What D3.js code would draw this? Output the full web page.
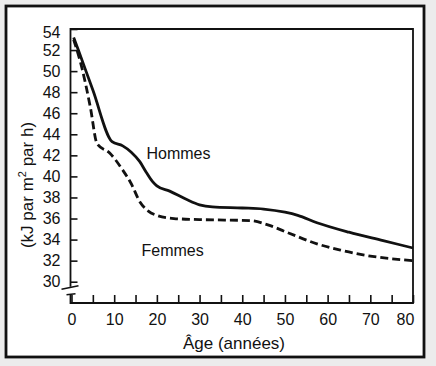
<!DOCTYPE html>
<html>
<head>
<meta charset="utf-8">
<script src="https://cdn.jsdelivr.net/npm/d3@7"></script>
<style>
  html, body { margin: 0; padding: 0; background: #ececec; }
  svg { display: block; }
  text { font-family: "Liberation Sans", Arial, Helvetica, sans-serif; fill: #111; }
</style>
</head>
<body>
<div id="chart"></div>
<script>
// Donnees : [age, kJ par m2 par h]
const hommes = [
  [0.5, 53.2], [1.6, 52.0], [5, 48.2], [9.5, 43.3], [12, 42.9], [14, 42.3],
  [16, 41.4], [17.5, 40.4], [19, 39.5], [20, 39.1], [23, 38.6], [27, 37.8],
  [30, 37.3], [33, 37.1], [40, 37.0], [45, 36.9], [50, 36.6], [53, 36.3],
  [57.5, 35.6], [65, 34.7], [73, 33.9], [80, 33.2]
];
const femmes = [
  [0.5, 53.0], [2.5, 50.2], [4.4, 46.6], [6, 43.1], [9, 42.2], [12, 40.6],
  [14, 39.3], [16, 37.6], [18, 36.7], [20, 36.3], [24, 36.0], [30, 35.9],
  [42, 35.8], [46, 35.4], [51, 34.6], [57.5, 33.6], [63, 33.0], [69, 32.5],
  [80, 32.0]
];
const yTicks = [30, 32, 34, 36, 38, 40, 42, 44, 46, 48, 50, 52, 54];
const xTicks = [0, 5, 10, 15, 20, 25, 30, 35, 40, 45, 50, 55, 60, 65, 70, 75, 80];
const xLabels = [0, 10, 20, 30, 40, 50, 60, 70, 80];

const W = 436, H = 366;
const x = d3.scaleLinear().domain([0, 80]).range([71.5, 413]);
const y = d3.scaleLinear().domain([30, 54]).range([281.7, 29]);
const x0 = 70.5, yBase = 303;

const svg = d3.select("#chart").append("svg")
  .attr("width", W).attr("height", H);

// cadre exterieur
svg.append("rect")
  .attr("x", 6).attr("y", 6).attr("width", 418).attr("height", 351)
  .attr("fill", "#fff").attr("stroke", "#111").attr("stroke-width", 2.8);

const g = svg.append("g");

// cadre du graphique
g.append("path")
  .attr("d", `M${x0},${y(30) + 5} V${y(54)} H${x(80)} V${yBase} H${x0} V${y(30) + 12.5}`)
  .attr("fill", "none").attr("stroke", "#111").attr("stroke-width", 1.8);

// coupure de l'axe
g.append("path")
  .attr("d", `M${x0 - 9},${y(30) + 7.5} L${x0 + 8},${y(30) + 4}` +
             ` M${x0 - 4},${y(30) + 13} L${x0 + 5},${y(30) + 12}`)
  .attr("fill", "none").attr("stroke", "#111").attr("stroke-width", 1.6);

// axe Y
const yAxis = d3.axisLeft(y).tickValues(yTicks)
  .tickSizeInner(-7).tickSizeOuter(0).tickPadding(10);
const ya = g.append("g").attr("transform", `translate(${x0},0)`).call(yAxis);
ya.select(".domain").remove();
ya.selectAll("line").attr("stroke", "#111").attr("stroke-width", 1.6);
ya.selectAll("text").attr("font-size", 16).attr("fill", "#111")
  .style("font-family", "'Liberation Sans', Arial, sans-serif")
  .attr("dy", d => d === 54 ? "0.52em" : "0.32em");

// axe X
const xAxis = d3.axisBottom(x).tickValues(xTicks)
  .tickSizeInner(-8).tickSizeOuter(0).tickPadding(10.5)
  .tickFormat(d => xLabels.includes(d) ? d : "");
const xa = g.append("g").attr("transform", `translate(0,${yBase})`).call(xAxis);
xa.select(".domain").remove();
xa.selectAll("line").attr("stroke", "#111").attr("stroke-width", 1.6);
xa.selectAll("text").attr("font-size", 16).attr("fill", "#111")
  .style("font-family", "'Liberation Sans', Arial, sans-serif")
  .attr("dx", d => d === 80 ? -8 : 0);

// courbes
const line = d3.line()
  .x(d => x(d[0])).y(d => y(d[1]))
  .curve(d3.curveMonotoneX);

g.append("path").datum(hommes)
  .attr("d", line).attr("fill", "none")
  .attr("stroke", "#111").attr("stroke-width", 2.8);

g.append("path").datum(femmes)
  .attr("d", line).attr("fill", "none")
  .attr("stroke", "#111").attr("stroke-width", 2.8)
  .attr("stroke-dasharray", "8,4");

// etiquettes
g.append("text").attr("x", 146.5).attr("y", 158.5)
  .attr("font-size", 16).text("Hommes");
g.append("text").attr("x", 141.5).attr("y", 255.5)
  .attr("font-size", 16).text("Femmes");

// titres des axes
svg.append("text")
  .attr("x", 234).attr("y", 348.5)
  .attr("text-anchor", "middle").attr("font-size", 17)
  .text("Âge (années)");

const yt = svg.append("text")
  .attr("transform", "translate(33,185) rotate(-90)")
  .attr("text-anchor", "middle").attr("font-size", 17);
yt.append("tspan").text("(kJ par m");
yt.append("tspan").attr("font-size", 11).attr("dy", -7).text("2");
yt.append("tspan").attr("dy", 7).text(" par h)");
</script>
</body>
</html>
